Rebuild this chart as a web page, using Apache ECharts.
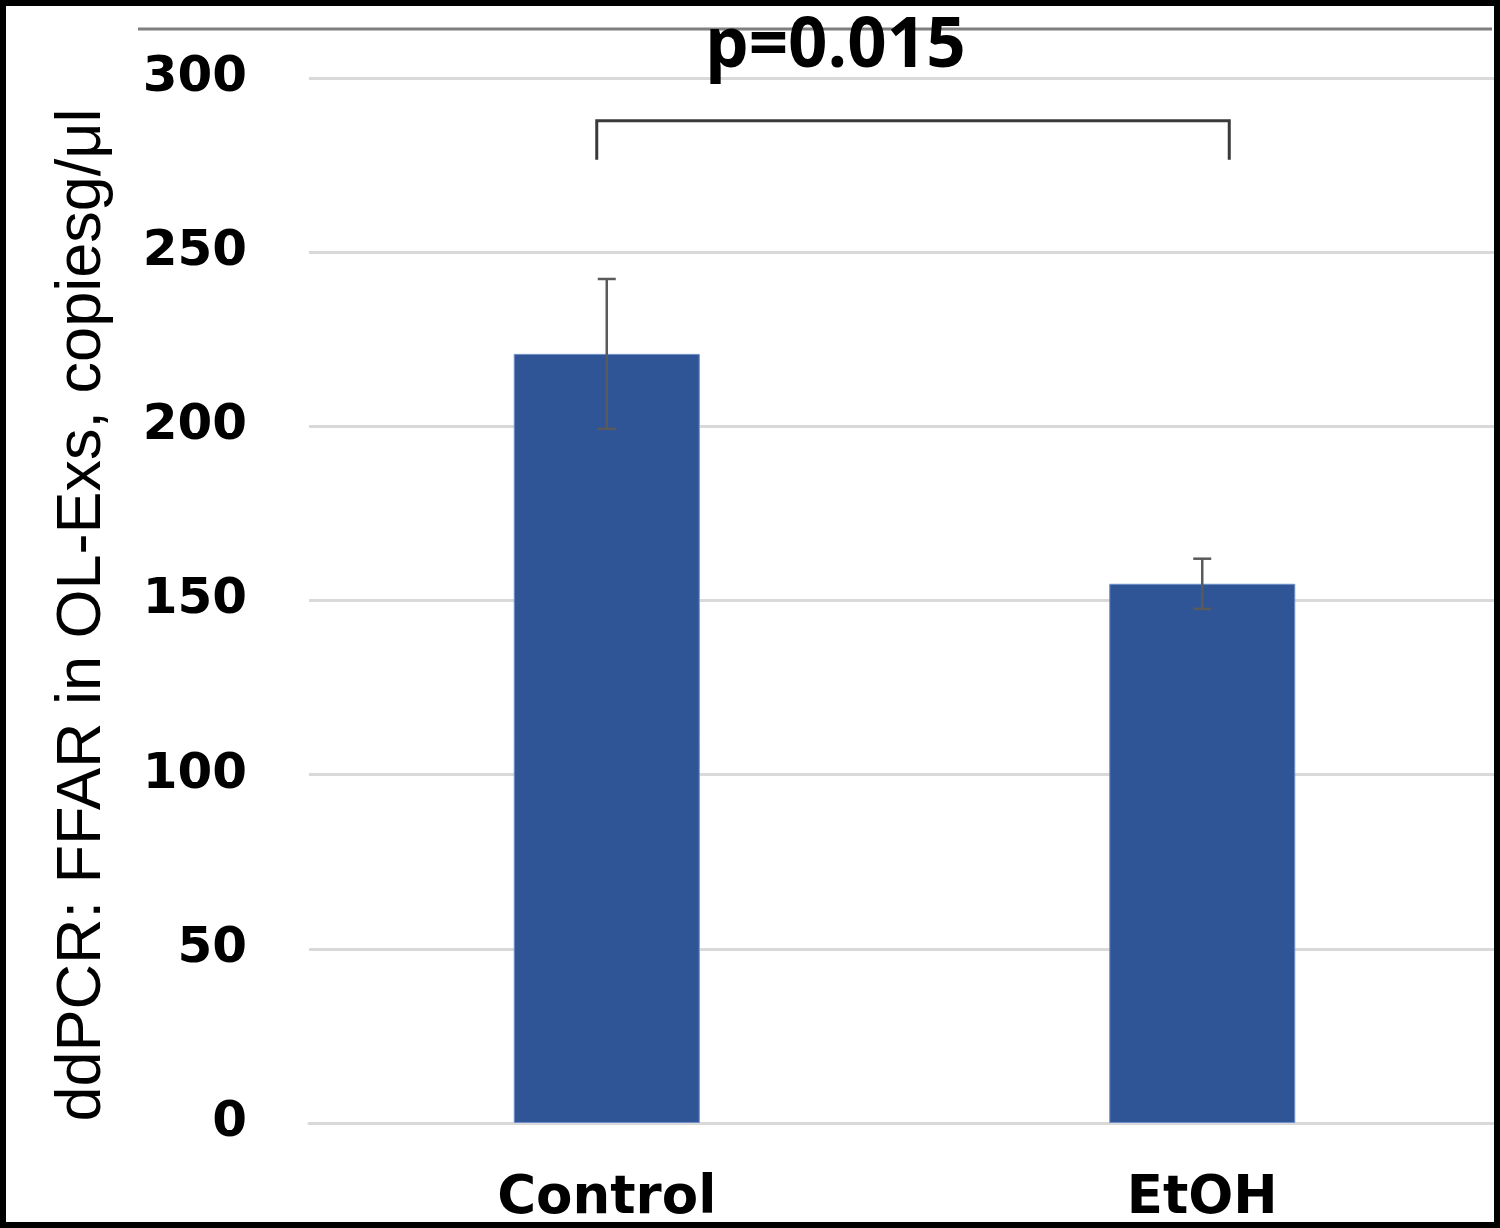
<!DOCTYPE html>
<html><head><meta charset="utf-8">
<script src="https://cdn.jsdelivr.net/npm/echarts@6/dist/echarts.min.js"></script>
<style>html,body{margin:0;padding:0;background:#fff}#c{width:1500px;height:1228px}</style>
</head><body><div id="c"></div>
<script>
const categories = ['Control', 'EtOH'];
const means = [220.8, 154.8];
const errors = [21.5, 7.2];
const yTicks = [0, 50, 100, 150, 200, 250, 300];
const bracket = [0, 1, 287.7, 276.5];
const pLabel = 'p=0.015';
const yName = 'ddPCR: FFAR in OL-Exs, copiesg/\u03bcl';

const chart = echarts.init(document.getElementById('c'));
const errData = means.map((m, i) => [i, m - errors[i], m + errors[i]]);
chart.setOption({
  animation: false,
  grid: { left: 309, right: 0, top: 78, bottom: 105 },
  xAxis: {
    type: 'category', data: categories,
    axisLine: { show: true, lineStyle: { color: '#d9d9d9', width: 3 } },
    axisTick: { show: false },
    axisLabel: { margin: 50, color: '#000', fontFamily: 'DejaVu Sans', fontWeight: 'bold', fontSize: 53 }
  },
  yAxis: {
    type: 'value', min: yTicks[0], max: yTicks[yTicks.length - 1], interval: 50,
    axisLine: { show: false }, axisTick: { show: false },
    axisLabel: { margin: 62, color: '#000', fontFamily: 'DejaVu Sans', fontWeight: 'bold', fontSize: 50 },
    splitLine: { lineStyle: { color: '#d9d9d9', width: 3 } }
  },
  series: [
    { type: 'bar', data: means, barWidth: 186,
      itemStyle: { color: '#2F5597', borderColor: '#6f8fc8', borderWidth: 1 } },
    { type: 'custom', data: errData, z: 5,
      renderItem: function (params, api) {
        const lo = api.coord([api.value(0), api.value(1)]);
        const hi = api.coord([api.value(0), api.value(2)]);
        const st = { stroke: '#5a5a5a', lineWidth: 2.5 };
        return { type: 'group', children: [
          { type: 'line', shape: { x1: lo[0], y1: lo[1], x2: hi[0], y2: hi[1] }, style: st },
          { type: 'line', shape: { x1: hi[0] - 9, y1: hi[1], x2: hi[0] + 9, y2: hi[1] }, style: st },
          { type: 'line', shape: { x1: lo[0] - 9, y1: lo[1], x2: lo[0] + 9, y2: lo[1] }, style: st }
        ]};
      }
    },
    { type: 'custom', data: [bracket], clip: false, z: 5,
      renderItem: function (params, api) {
        const a = api.coord([api.value(0), api.value(2)]);
        const b = api.coord([api.value(1), api.value(2)]);
        const lowY = api.coord([0, api.value(3)])[1];
        const x1 = a[0] - 10, x2 = b[0] + 27;
        return { type: 'polyline', shape: { points: [[x1, lowY], [x1, a[1]], [x2, a[1]], [x2, lowY]] },
          style: { stroke: '#3a3a3a', lineWidth: 3, fill: null } };
      }
    }
  ],
  graphic: [
    { type: 'line', shape: { x1: 138, y1: 29, x2: 1492, y2: 29 }, style: { stroke: '#7f7f7f', lineWidth: 3 }, z: 10 },
    { type: 'text', left: 705, top: 13, style: { text: pLabel, fill: '#000', font: 'bold 69px "Open Sans"' }, z: 10 },
    { type: 'text', x: 83, y: 615, rotation: Math.PI / 2,
      style: { text: yName, fill: '#000', font: '63px "Liberation Sans"', textAlign: 'center', textVerticalAlign: 'middle' }, z: 10 },
    { type: 'rect', shape: { x: 3, y: 3, width: 1494, height: 1222 }, style: { stroke: '#000', lineWidth: 6, fill: null }, z: 100 }
  ]
});
</script></body></html>
